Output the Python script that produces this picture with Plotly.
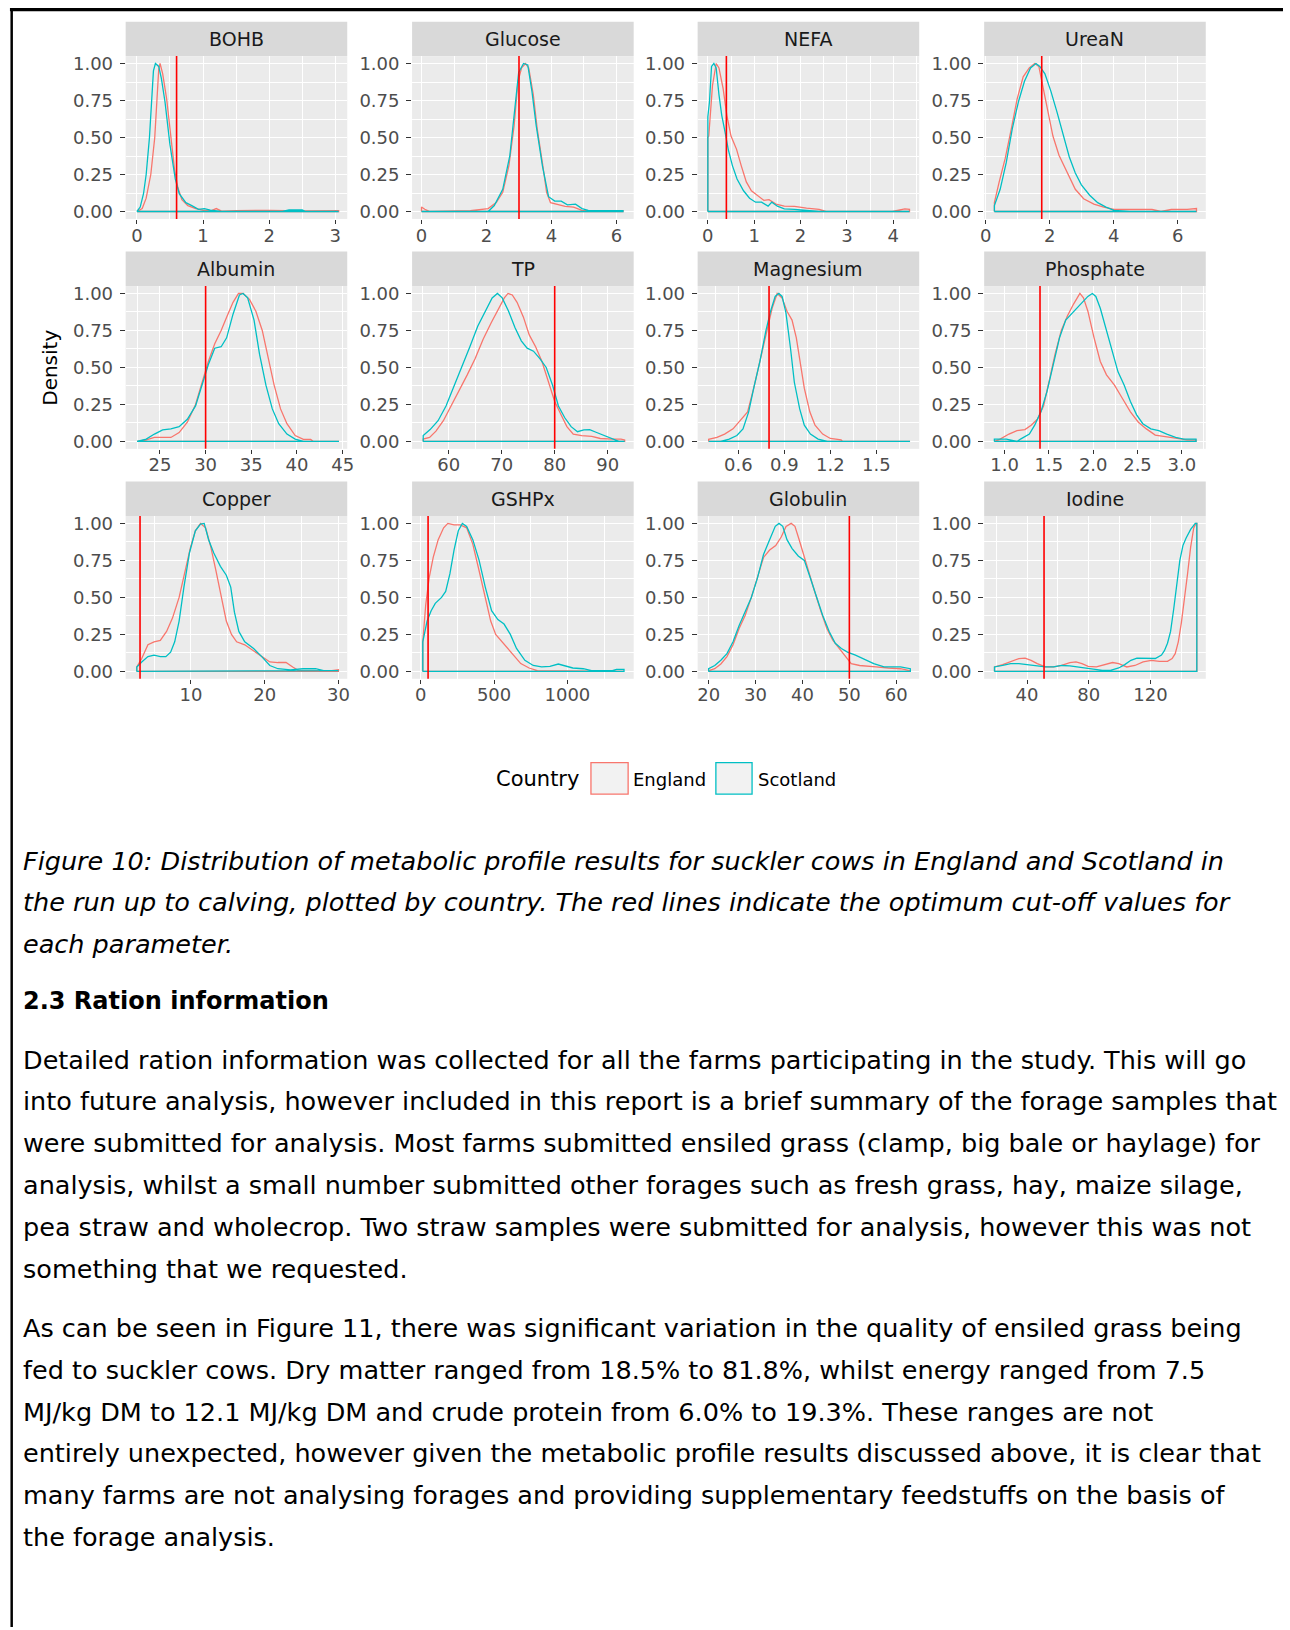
import plotly.graph_objects as go

W, H = 1290, 1630

ENG_COLOR = "#F8766D"
SCO_COLOR = "#00BFC4"
CUT_COLOR = "#FF0000"

PARAMS = ["BOHB", "Glucose", "NEFA", "UreaN",
          "Albumin", "TP", "Magnesium", "Phosphate",
          "Copper", "GSHPx", "Globulin", "Iodine"]

CUTOFFS = [0.6, 3.0, 0.4, 1.75, 30, 80, 0.8, 1.4, 3.1, 50, 50, 51]

X_TICKS = [[0, 1, 2, 3], [0, 2, 4, 6], [0, 1, 2, 3, 4], [0, 2, 4, 6],
           [25, 30, 35, 40, 45], [60, 70, 80, 90], [0.6, 0.9, 1.2, 1.5], [1.0, 1.5, 2.0, 2.5, 3.0],
           [10, 20, 30], [0, 500, 1000], [20, 30, 40, 50, 60], [40, 80, 120]]
X_TICK_TEXT = [["0", "1", "2", "3"], ["0", "2", "4", "6"], ["0", "1", "2", "3", "4"], ["0", "2", "4", "6"],
               ["25", "30", "35", "40", "45"], ["60", "70", "80", "90"], ["0.6", "0.9", "1.2", "1.5"],
               ["1.0", "1.5", "2.0", "2.5", "3.0"],
               ["10", "20", "30"], ["0", "500", "1000"], ["20", "30", "40", "50", "60"], ["40", "80", "120"]]

# x limits of each facet (free scales)
X_LIMITS = [[-0.17, 3.18], [-0.29, 6.53], [-0.22, 4.56], [-0.05, 6.88],
            [21.25, 45.5], [53.1, 94.9], [0.334, 1.78], [0.77, 3.27],
            [1.15, 31.2], [-59, 1452], [17.65, 64.9], [12.2, 155.8]]

Y_TICKS = [0, 0.25, 0.5, 0.75, 1.0]
Y_TICK_TEXT = ["0.00", "0.25", "0.50", "0.75", "1.00"]

# scaled densities, England / Scotland, per parameter
BOHB_ENG_X = [0, 0.08, 0.14, 0.21, 0.27, 0.30, 0.33, 0.35, 0.39, 0.45, 0.51, 0.57, 0.62, 0.68, 0.77, 0.89, 1.0, 1.12, 1.2, 1.28, 1.5, 2.0, 2.5, 3.0, 3.05]
BOHB_ENG_Y = [0, 0.02, 0.09, 0.25, 0.5, 0.75, 0.96, 1.0, 0.93, 0.76, 0.5, 0.28, 0.16, 0.08, 0.04, 0.02, 0.01, 0.005, 0.02, 0.003, 0.005, 0.008, 0.004, 0.008, 0.005]
BOHB_SCO_X = [0, 0.05, 0.10, 0.14, 0.19, 0.22, 0.25, 0.28, 0.33, 0.37, 0.425, 0.5, 0.58, 0.64, 0.74, 0.83, 0.93, 1.02, 1.11, 1.27, 2.2, 2.3, 2.5, 2.55, 3.05]
BOHB_SCO_Y = [0, 0.03, 0.12, 0.25, 0.5, 0.75, 0.95, 1.0, 0.98, 0.9, 0.74, 0.45, 0.22, 0.12, 0.06, 0.04, 0.015, 0.02, 0.01, 0.0, 0.0, 0.01, 0.01, 0.0, 0.0]

GLUCOSE_ENG_X = [0.0, 0.1, 0.26, 1.5, 2.05, 2.3, 2.5, 2.69, 2.85, 2.97, 3.08, 3.2, 3.3, 3.44, 3.56, 3.72, 3.85, 3.97, 4.17, 4.42, 4.68, 4.94, 6.0, 6.2]
GLUCOSE_ENG_Y = [0.03, 0.015, 0.0, 0.005, 0.02, 0.06, 0.13, 0.31, 0.58, 0.88, 0.97, 1.0, 0.97, 0.79, 0.56, 0.33, 0.13, 0.06, 0.05, 0.035, 0.03, 0.007, 0.0, 0.005]
GLUCOSE_SCO_X = [0.0, 2.05, 2.24, 2.5, 2.72, 2.88, 2.99, 3.14, 3.27, 3.4, 3.53, 3.72, 3.91, 4.1, 4.3, 4.49, 4.74, 4.94, 5.13, 6.2]
GLUCOSE_SCO_Y = [0.0, 0.0, 0.04, 0.15, 0.38, 0.7, 0.94, 1.0, 0.99, 0.81, 0.58, 0.31, 0.1, 0.07, 0.07, 0.045, 0.05, 0.02, 0.007, 0.005]

NEFA_ENG_X = [0.0, 0.02, 0.06, 0.1, 0.18, 0.24, 0.33, 0.41, 0.5, 0.62, 0.72, 0.83, 0.94, 1.07, 1.21, 1.32, 1.47, 1.65, 1.87, 2.13, 2.4, 2.57, 3.98, 4.25, 4.35]
NEFA_ENG_Y = [0.5, 0.51, 0.72, 0.85, 1.0, 0.97, 0.83, 0.65, 0.51, 0.42, 0.31, 0.2, 0.14, 0.11, 0.075, 0.08, 0.05, 0.036, 0.034, 0.023, 0.014, 0.0, 0.0, 0.018, 0.014]
NEFA_SCO_X = [0.0, 0.035, 0.08, 0.13, 0.18, 0.24, 0.3, 0.37, 0.44, 0.53, 0.63, 0.77, 0.9, 1.03, 1.16, 1.3, 1.38, 1.5, 1.65, 1.87, 2.22, 2.4, 4.35]
NEFA_SCO_Y = [0.64, 0.74, 0.98, 1.0, 0.97, 0.79, 0.65, 0.54, 0.42, 0.31, 0.22, 0.14, 0.09, 0.063, 0.063, 0.036, 0.063, 0.036, 0.018, 0.014, 0.007, 0.0, 0.0]

UREAN_ENG_X = [0.27, 0.42, 0.61, 0.8, 0.98, 1.17, 1.36, 1.53, 1.66, 1.78, 1.94, 2.1, 2.29, 2.55, 2.8, 3.06, 3.38, 3.69, 4.01, 4.5, 5.2, 5.48, 5.8, 6.3, 6.56, 6.59]
UREAN_ENG_Y = [0.06, 0.2, 0.36, 0.56, 0.76, 0.91, 0.97, 1.0, 0.98, 0.85, 0.67, 0.51, 0.38, 0.26, 0.15, 0.086, 0.05, 0.03, 0.014, 0.014, 0.014, 0.0, 0.014, 0.014, 0.02, 0.02]
UREAN_SCO_X = [0.27, 0.45, 0.64, 0.83, 1.02, 1.21, 1.4, 1.57, 1.69, 1.85, 2.04, 2.23, 2.42, 2.61, 2.8, 2.99, 3.25, 3.5, 3.76, 4.01, 4.5, 6.59]
UREAN_SCO_Y = [0.04, 0.15, 0.33, 0.56, 0.74, 0.88, 0.97, 1.0, 0.98, 0.93, 0.81, 0.67, 0.51, 0.37, 0.26, 0.18, 0.11, 0.06, 0.03, 0.007, 0.0, 0.0]

ALBUMIN_ENG_X = [22.5, 23.5, 24.4, 26.2, 27.1, 28.0, 28.9, 29.6, 30.3, 31.0, 31.7, 32.3, 33.0, 33.6, 34.1, 34.8, 35.5, 36.2, 36.9, 37.5, 38.2, 38.9, 39.8, 40.7, 41.5, 41.8, 44.6]
ALBUMIN_ENG_Y = [0.0, 0.01, 0.027, 0.027, 0.06, 0.13, 0.25, 0.4, 0.54, 0.66, 0.75, 0.84, 0.94, 1.0, 1.0, 0.96, 0.88, 0.75, 0.56, 0.38, 0.22, 0.12, 0.04, 0.014, 0.014, 0.0, 0.0]
ALBUMIN_SCO_X = [22.5, 23.5, 24.4, 25.3, 26.2, 27.1, 28.0, 28.9, 29.6, 30.3, 31.0, 31.7, 32.3, 33.0, 33.7, 34.1, 34.6, 35.3, 35.9, 36.6, 37.3, 38.0, 38.9, 39.8, 40.7, 44.6]
ALBUMIN_SCO_Y = [0.0, 0.016, 0.05, 0.078, 0.085, 0.1, 0.15, 0.24, 0.38, 0.52, 0.63, 0.64, 0.7, 0.86, 0.99, 1.0, 0.97, 0.82, 0.59, 0.38, 0.22, 0.12, 0.05, 0.016, 0.0, 0.0]

TP_ENG_X = [55.2, 56.4, 57.6, 59.0, 60.5, 62.0, 63.5, 65.0, 66.5, 68.0, 69.5, 70.5, 71.2, 72.0, 72.9, 74.1, 75.2, 76.4, 77.6, 78.8, 80.0, 81.2, 82.3, 83.5, 85.1, 87.0, 88.6, 90.9, 92.5, 93.2]
TP_ENG_Y = [0.016, 0.027, 0.07, 0.14, 0.24, 0.35, 0.45, 0.56, 0.69, 0.8, 0.9, 0.97, 1.0, 0.99, 0.94, 0.84, 0.72, 0.64, 0.54, 0.4, 0.27, 0.18, 0.1, 0.05, 0.04, 0.034, 0.02, 0.016, 0.016, 0.01]
TP_SCO_X = [55.2, 56.5, 58.0, 59.5, 61.0, 62.5, 64.0, 65.5, 67.0, 68.2, 69.2, 70.1, 71.3, 72.5, 73.7, 74.8, 76.0, 77.2, 78.4, 79.6, 80.7, 81.9, 83.1, 84.3, 85.5, 86.6, 87.8, 89.4, 90.9, 92.1, 93.2]
TP_SCO_Y = [0.04, 0.08, 0.14, 0.24, 0.37, 0.5, 0.64, 0.78, 0.89, 0.97, 1.0, 0.97, 0.88, 0.77, 0.68, 0.63, 0.61, 0.56, 0.5, 0.38, 0.24, 0.16, 0.1, 0.066, 0.078, 0.08, 0.062, 0.04, 0.016, 0.0, 0.0]

MAGNESIUM_ENG_X = [0.406, 0.46, 0.51, 0.565, 0.62, 0.66, 0.7, 0.74, 0.78, 0.82, 0.853, 0.885, 0.917, 0.95, 0.978, 1.005, 1.03, 1.066, 1.1, 1.15, 1.2, 1.27, 1.28, 1.72]
MAGNESIUM_ENG_Y = [0.014, 0.027, 0.05, 0.085, 0.15, 0.2, 0.36, 0.54, 0.71, 0.9, 1.0, 0.97, 0.88, 0.82, 0.7, 0.52, 0.36, 0.2, 0.11, 0.05, 0.02, 0.011, 0.0, 0.0]
MAGNESIUM_SCO_X = [0.406, 0.485, 0.54, 0.59, 0.63, 0.667, 0.7, 0.74, 0.78, 0.81, 0.84, 0.864, 0.885, 0.91, 0.94, 0.965, 1.0, 1.03, 1.07, 1.12, 1.18, 1.72]
MAGNESIUM_SCO_Y = [0, 0, 0.016, 0.04, 0.085, 0.2, 0.36, 0.54, 0.75, 0.88, 0.98, 1.0, 0.98, 0.87, 0.63, 0.4, 0.22, 0.11, 0.05, 0.016, 0, 0]

PHOSPHATE_ENG_X = [0.885, 0.95, 1.05, 1.14, 1.23, 1.3, 1.37, 1.44, 1.5, 1.57, 1.64, 1.71, 1.78, 1.85, 1.89, 1.94, 2.01, 2.08, 2.15, 2.24, 2.33, 2.42, 2.51, 2.6, 2.7, 2.79, 2.88, 2.97, 3.06, 3.16]
PHOSPHATE_ENG_Y = [0.0, 0.016, 0.05, 0.073, 0.08, 0.11, 0.15, 0.24, 0.4, 0.59, 0.75, 0.85, 0.93, 1.0, 0.97, 0.88, 0.7, 0.54, 0.45, 0.38, 0.29, 0.2, 0.13, 0.085, 0.043, 0.034, 0.027, 0.016, 0.011, 0.01]
PHOSPHATE_SCO_X = [0.885, 1.02, 1.14, 1.18, 1.28, 1.34, 1.41, 1.48, 1.55, 1.62, 1.69, 1.78, 1.87, 1.94, 1.99, 2.03, 2.08, 2.15, 2.22, 2.28, 2.35, 2.42, 2.49, 2.56, 2.65, 2.74, 2.83, 2.93, 3.02, 3.16]
PHOSPHATE_SCO_Y = [0.016, 0.016, 0.0, 0.016, 0.05, 0.11, 0.2, 0.34, 0.52, 0.7, 0.82, 0.88, 0.94, 0.98, 1.0, 0.98, 0.9, 0.75, 0.59, 0.47, 0.38, 0.27, 0.18, 0.12, 0.085, 0.073, 0.05, 0.027, 0.016, 0.016]

COPPER_ENG_X = [2.66, 3.33, 4.17, 5.0, 5.85, 6.7, 7.5, 8.4, 9.2, 9.95, 10.6, 11.3, 12.0, 12.7, 13.4, 14.1, 14.8, 15.5, 16.2, 17.3, 18.5, 19.6, 20.7, 21.8, 22.9, 23.8, 24.6, 29.1, 30.0]
COPPER_ENG_Y = [0.03, 0.087, 0.18, 0.2, 0.21, 0.27, 0.36, 0.5, 0.68, 0.84, 0.95, 1.0, 0.97, 0.84, 0.68, 0.5, 0.34, 0.25, 0.2, 0.18, 0.14, 0.1, 0.064, 0.06, 0.06, 0.03, 0.005, 0.005, 0.011]
COPPER_SCO_X = [2.66, 3.33, 4.17, 5.0, 5.85, 6.6, 7.25, 7.8, 8.4, 9.05, 9.8, 10.6, 11.3, 11.8, 12.4, 13.1, 14.0, 14.8, 15.4, 15.9, 16.5, 17.3, 18.5, 19.6, 20.7, 21.8, 23.5, 25.2, 26.9, 28.0, 30.0]
COPPER_SCO_Y = [0.03, 0.064, 0.1, 0.11, 0.1, 0.1, 0.13, 0.2, 0.34, 0.57, 0.8, 0.95, 0.995, 1.0, 0.89, 0.8, 0.71, 0.65, 0.57, 0.4, 0.27, 0.2, 0.155, 0.1, 0.04, 0.018, 0.011, 0.018, 0.018, 0.005, 0.005]

GSHPX_ENG_X = [14, 34, 57, 85, 119, 156, 185, 227, 270, 313, 355, 398, 440, 477, 511, 554, 597, 639, 682, 739, 795, 1386]
GSHPX_ENG_Y = [0.2, 0.45, 0.63, 0.77, 0.89, 0.97, 1.0, 0.99, 0.99, 0.97, 0.86, 0.68, 0.5, 0.34, 0.25, 0.2, 0.155, 0.1, 0.053, 0.023, 0.005, 0.0]
GSHPX_SCO_X = [14, 43, 71, 99, 142, 170, 199, 227, 256, 284, 313, 355, 398, 440, 483, 526, 568, 611, 653, 710, 767, 824, 881, 938, 980, 1037, 1108, 1165, 1307, 1335, 1386]
GSHPX_SCO_Y = [0.2, 0.34, 0.41, 0.46, 0.5, 0.54, 0.66, 0.82, 0.95, 1.0, 0.98, 0.89, 0.75, 0.57, 0.41, 0.35, 0.32, 0.25, 0.155, 0.075, 0.04, 0.03, 0.034, 0.05, 0.037, 0.023, 0.018, 0.005, 0.005, 0.014, 0.014]

GLOBULIN_ENG_X = [20, 21.3, 22.6, 23.9, 25.2, 26.5, 27.8, 29.1, 30.4, 31.7, 33.0, 34.3, 35.5, 36.5, 37.6, 38.4, 39.3, 40.2, 41.3, 42.6, 43.9, 45.2, 46.5, 47.8, 49.1, 50.4, 52.2, 53.9, 55.7, 58.3, 60.9, 63.0]
GLOBULIN_ENG_Y = [0.005, 0.018, 0.05, 0.1, 0.18, 0.29, 0.38, 0.5, 0.63, 0.77, 0.82, 0.85, 0.91, 0.98, 1.0, 0.98, 0.89, 0.79, 0.68, 0.54, 0.41, 0.29, 0.21, 0.155, 0.1, 0.053, 0.04, 0.037, 0.03, 0.023, 0.018, 0.005]
GLOBULIN_SCO_X = [20, 21.3, 22.6, 23.9, 25.2, 26.5, 27.8, 29.1, 30.4, 31.7, 33.0, 34.2, 35.0, 35.8, 36.7, 37.8, 39.1, 40.4, 41.7, 43.0, 44.3, 45.7, 47.0, 48.3, 49.6, 51.3, 53.0, 55.2, 57.4, 60.9, 63.0]
GLOBULIN_SCO_Y = [0.018, 0.04, 0.075, 0.12, 0.2, 0.31, 0.41, 0.5, 0.63, 0.79, 0.89, 0.98, 1.0, 0.98, 0.89, 0.83, 0.78, 0.75, 0.63, 0.5, 0.38, 0.27, 0.19, 0.155, 0.13, 0.11, 0.087, 0.053, 0.03, 0.03, 0.018]

IODINE_ENG_X = [18.9, 24.2, 29.4, 34.7, 38.7, 42.6, 46.6, 51.9, 57.2, 62.4, 67.7, 71.7, 75.6, 79.6, 84.9, 90.1, 95.4, 99.4, 104.6, 109.9, 115.2, 120.5, 125.8, 131.0, 134.0, 136, 138, 140, 142, 144, 146, 148, 149.5, 150]
IODINE_ENG_Y = [0.03, 0.046, 0.064, 0.087, 0.09, 0.075, 0.053, 0.03, 0.03, 0.04, 0.06, 0.064, 0.053, 0.034, 0.03, 0.046, 0.06, 0.053, 0.03, 0.04, 0.064, 0.075, 0.068, 0.068, 0.087, 0.12, 0.2, 0.33, 0.48, 0.66, 0.84, 0.97, 1.0, 1.0]
IODINE_SCO_X = [18.9, 24.2, 29.4, 34.7, 40.0, 45.3, 51.9, 57.2, 62.4, 67.7, 73.0, 78.3, 83.5, 88.8, 94.1, 99.4, 103.3, 107.3, 111.2, 115.2, 119.2, 123.1, 127.1, 129, 131, 133, 135, 137, 139, 141, 143, 146, 149, 150]
IODINE_SCO_Y = [0.03, 0.04, 0.053, 0.053, 0.046, 0.037, 0.03, 0.03, 0.04, 0.037, 0.03, 0.023, 0.014, 0.007, 0.007, 0.023, 0.046, 0.075, 0.09, 0.09, 0.087, 0.087, 0.11, 0.14, 0.19, 0.27, 0.42, 0.6, 0.75, 0.85, 0.9, 0.96, 1.0, 1.0]

ENGLAND = [(BOHB_ENG_X, BOHB_ENG_Y), (GLUCOSE_ENG_X, GLUCOSE_ENG_Y), (NEFA_ENG_X, NEFA_ENG_Y), (UREAN_ENG_X, UREAN_ENG_Y),
           (ALBUMIN_ENG_X, ALBUMIN_ENG_Y), (TP_ENG_X, TP_ENG_Y), (MAGNESIUM_ENG_X, MAGNESIUM_ENG_Y), (PHOSPHATE_ENG_X, PHOSPHATE_ENG_Y),
           (COPPER_ENG_X, COPPER_ENG_Y), (GSHPX_ENG_X, GSHPX_ENG_Y), (GLOBULIN_ENG_X, GLOBULIN_ENG_Y), (IODINE_ENG_X, IODINE_ENG_Y)]
SCOTLAND = [(BOHB_SCO_X, BOHB_SCO_Y), (GLUCOSE_SCO_X, GLUCOSE_SCO_Y), (NEFA_SCO_X, NEFA_SCO_Y), (UREAN_SCO_X, UREAN_SCO_Y),
            (ALBUMIN_SCO_X, ALBUMIN_SCO_Y), (TP_SCO_X, TP_SCO_Y), (MAGNESIUM_SCO_X, MAGNESIUM_SCO_Y), (PHOSPHATE_SCO_X, PHOSPHATE_SCO_Y),
            (COPPER_SCO_X, COPPER_SCO_Y), (GSHPX_SCO_X, GSHPX_SCO_Y), (GLOBULIN_SCO_X, GLOBULIN_SCO_Y), (IODINE_SCO_X, IODINE_SCO_Y)]

CAPTION = [
    "Figure 10: Distribution of metabolic profile results for suckler cows in England and Scotland in",
    "the run up to calving, plotted by country. The red lines indicate the optimum cut-off values for",
    "each parameter.",
]
HEADING = "2.3 Ration information"
PARAGRAPH_1 = [
    "Detailed ration information was collected for all the farms participating in the study. This will go",
    "into future analysis, however included in this report is a brief summary of the forage samples that",
    "were submitted for analysis. Most farms submitted ensiled grass (clamp, big bale or haylage) for",
    "analysis, whilst a small number submitted other forages such as fresh grass, hay, maize silage,",
    "pea straw and wholecrop. Two straw samples were submitted for analysis, however this was not",
    "something that we requested.",
]
PARAGRAPH_2 = [
    "As can be seen in Figure 11, there was significant variation in the quality of ensiled grass being",
    "fed to suckler cows. Dry matter ranged from 18.5% to 81.8%, whilst energy ranged from 7.5",
    "MJ/kg DM to 12.1 MJ/kg DM and crude protein from 6.0% to 19.3%. These ranges are not",
    "entirely unexpected, however given the metabolic profile results discussed above, it is clear that",
    "many farms are not analysing forages and providing supplementary feedstuffs on the basis of",
    "the forage analysis.",
]

# ---- page geometry (pixels) ----
COL_LEFT = [122.7, 411.6, 699.6, 988.6]
PANEL_W = 223.5
STRIP_TOP = [18.7, 249.5, 480.3]
STRIP_H = 34.6
PANEL_H = 163.4

CHART_FONT = "DejaVu Sans"
TEXT_FONT = "DejaVu Sans, sans-serif"


def fx(p):
    return p / W


def fy(p):
    return 1 - p / H


fig = go.Figure()
shapes = []
annotations = []
layout_axes = {}

for i, name in enumerate(PARAMS):
    r, c = divmod(i, 4)
    n = "" if i == 0 else str(i + 1)
    left = COL_LEFT[c]
    top = STRIP_TOP[r] + STRIP_H
    xr = X_LIMITS[i]

    ticks = X_TICKS[i]
    step = ticks[1] - ticks[0]
    minor = []
    v = ticks[0] - step / 2
    while v <= xr[1]:
        if v >= xr[0]:
            minor.append(round(v, 6))
        v += step / 2

    tickfont = dict(family=CHART_FONT, size=18, color="#4D4D4D")
    layout_axes["xaxis" + n] = dict(
        domain=[fx(left), fx(left + PANEL_W)], anchor="y" + n, range=xr,
        tickmode="array", tickvals=ticks, ticktext=X_TICK_TEXT[i],
        ticks="outside", ticklen=4, tickwidth=1.1, tickcolor="#333333",
        ticklabelstandoff=-4,
        showgrid=True, gridcolor="white", gridwidth=1.4, zeroline=False, showline=False,
        minor=dict(tickmode="array", tickvals=minor, showgrid=True, gridcolor="white", gridwidth=0.7, ticks=""),
        tickfont=tickfont, fixedrange=True,
    )
    layout_axes["yaxis" + n] = dict(
        domain=[fy(top + PANEL_H), fy(top)], anchor="x" + n, range=[-0.05, 1.05],
        tickmode="array", tickvals=Y_TICKS, ticktext=Y_TICK_TEXT,
        ticks="outside", ticklen=5, tickwidth=1.1, tickcolor="#333333",
        ticklabelstandoff=3,
        showgrid=True, gridcolor="white", gridwidth=1.4, zeroline=False, showline=False,
        minor=dict(tickmode="array", tickvals=[0.125, 0.375, 0.625, 0.875], showgrid=True,
                   gridcolor="white", gridwidth=0.7, ticks=""),
        tickfont=tickfont, fixedrange=True,
    )

    ex, ey = ENGLAND[i]
    sx, sy = SCOTLAND[i]
    # density outlines closed down to the baseline, England drawn first
    for (xs, ys), col in (((ex, ey), ENG_COLOR), ((sx, sy), SCO_COLOR)):
        fig.add_trace(go.Scatter(
            x=[xs[0]] + list(xs) + [xs[-1], xs[0]],
            y=[0] + list(ys) + [0, 0],
            mode="lines", line=dict(color=col, width=1.3),
            xaxis="x" + n, yaxis="y" + n, showlegend=False, hoverinfo="skip",
        ))

    # cut-off line
    shapes.append(dict(type="line", xref="x" + n, yref="y" + n + " domain",
                       x0=CUTOFFS[i], x1=CUTOFFS[i], y0=0, y1=1,
                       line=dict(color=CUT_COLOR, width=1.6), layer="above"))

    # facet strip
    shapes.append(dict(type="rect", xref="paper", yref="paper",
                       x0=fx(left), x1=fx(left + PANEL_W),
                       y0=fy(STRIP_TOP[r] + STRIP_H), y1=fy(STRIP_TOP[r]),
                       fillcolor="#D9D9D9", line=dict(width=0), layer="below"))
    annotations.append(dict(text=name, xref="paper", yref="paper",
                            x=fx(left + PANEL_W / 2), y=fy(STRIP_TOP[r] + STRIP_H / 2),
                            xanchor="center", yanchor="middle", showarrow=False,
                            font=dict(family=CHART_FONT, size=19, color="#1A1A1A")))

# shared y title
annotations.append(dict(text="Density", xref="paper", yref="paper", x=fx(46.5), y=fy(366),
                        xanchor="center", yanchor="middle", textangle=-90, showarrow=False,
                        font=dict(family=CHART_FONT, size=20, color="black")))

# legend
LEG_Y0, LEG_Y1 = 762.5, 794
annotations.append(dict(text="Country", xref="paper", yref="paper", x=fx(494), y=fy(779),
                        xanchor="left", yanchor="middle", showarrow=False,
                        font=dict(family=CHART_FONT, size=21, color="black")))
for (bx0, bx1, tx, label, col) in ((592, 629.5, 632, "England", ENG_COLOR),
                                   (718, 754.5, 758, "Scotland", SCO_COLOR)):
    shapes.append(dict(type="rect", xref="paper", yref="paper",
                       x0=fx(bx0), x1=fx(bx1), y0=fy(LEG_Y1), y1=fy(LEG_Y0),
                       fillcolor="#F2F2F2", line=dict(color=col, width=1.3)))
    annotations.append(dict(text=label, xref="paper", yref="paper", x=fx(tx), y=fy(779),
                            xanchor="left", yanchor="middle", showarrow=False,
                            font=dict(family=CHART_FONT, size=18, color="black")))

# page frame lines
shapes.append(dict(type="rect", xref="paper", yref="paper", x0=fx(6), x1=1, y0=fy(8.3), y1=fy(5),
                   fillcolor="black", line=dict(width=0)))
shapes.append(dict(type="rect", xref="paper", yref="paper", x0=fx(6.5), x1=fx(9), y0=0, y1=fy(5),
                   fillcolor="black", line=dict(width=0)))

# document text
TEXT_X = 17
TEXT_SIZE = 25.5


def add_line(text, ypix, style="", size=TEXT_SIZE):
    if style == "i":
        text = "<i>" + text + "</i>"
    elif style == "b":
        text = "<b>" + text + "</b>"
    annotations.append(dict(text=text, xref="paper", yref="paper", x=fx(TEXT_X), y=fy(ypix),
                            xanchor="left", yanchor="middle", showarrow=False,
                            font=dict(family=TEXT_FONT, size=size, color="black")))


for k, line in enumerate(CAPTION):
    add_line(line, 861 + k * 41.6, "i")
add_line(HEADING, 1001.5, "b", 24)
for k, line in enumerate(PARAGRAPH_1):
    add_line(line, 1060.5 + k * 41.95)
for k, line in enumerate(PARAGRAPH_2):
    add_line(line, 1330 + k * 41.95)

fig.update_layout(
    width=W, height=H, margin=dict(l=0, r=0, t=0, b=0),
    paper_bgcolor="white", plot_bgcolor="#EBEBEB",
    showlegend=False, shapes=shapes, annotations=annotations,
    **layout_axes,
)

fig.write_html("out.html")
